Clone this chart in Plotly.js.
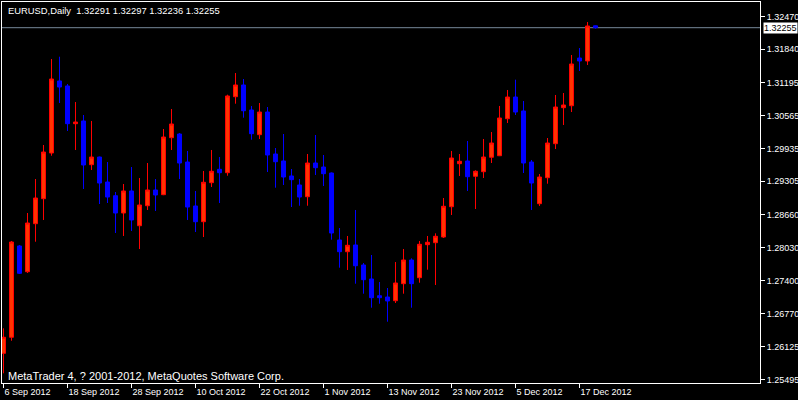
<!DOCTYPE html>
<html>
<head>
<meta charset="utf-8">
<script src="https://cdn.plot.ly/plotly-3.0.1.min.js"></script>
<style>html,body{margin:0;padding:0;background:#000;}#chart{width:798px;height:400px;}</style>
</head>
<body>
<div id="chart"></div>
<script>
const dates = [
"2012-09-06","2012-09-07","2012-09-10","2012-09-11","2012-09-12","2012-09-13","2012-09-14","2012-09-17","2012-09-18","2012-09-19","2012-09-20","2012-09-21","2012-09-24","2012-09-25","2012-09-26","2012-09-27","2012-09-28",
"2012-10-01","2012-10-02","2012-10-03","2012-10-04","2012-10-05","2012-10-08","2012-10-09","2012-10-10","2012-10-11","2012-10-12","2012-10-15","2012-10-16","2012-10-17","2012-10-18","2012-10-19","2012-10-22","2012-10-23","2012-10-24","2012-10-25","2012-10-26","2012-10-29","2012-10-30","2012-10-31",
"2012-11-01","2012-11-02","2012-11-05","2012-11-06","2012-11-07","2012-11-08","2012-11-09","2012-11-12","2012-11-13","2012-11-14","2012-11-15","2012-11-16","2012-11-19","2012-11-20","2012-11-21","2012-11-22","2012-11-23","2012-11-26","2012-11-27","2012-11-28","2012-11-29","2012-11-30",
"2012-12-03","2012-12-04","2012-12-05","2012-12-06","2012-12-07","2012-12-10","2012-12-11","2012-12-12","2012-12-13","2012-12-14","2012-12-17","2012-12-18","2012-12-19"
];
const openP = [
1.26003,1.26311,1.28064,1.27570,1.28492,1.28972,1.29849,1.31232,1.31136,1.30412,1.30464,1.29625,1.29772,1.29292,1.29029,1.28697,1.29120,
1.28453,1.28837,1.29139,1.29049,1.30143,1.30214,1.29676,1.28832,1.28530,1.29279,1.29536,1.29471,1.30930,1.31155,1.30675,1.30201,1.30636,1.29830,1.29696,1.29408,1.29235,1.29010,1.29657,
1.29580,1.29465,1.28179,1.27954,1.28083,1.27699,1.27430,1.27109,1.27084,1.27013,1.27340,1.27795,1.27455,1.28089,1.28127,1.28236,1.28818,1.29644,1.29696,1.29402,1.29490,1.29767,
1.29797,1.30508,1.30924,1.30656,1.29676,1.28876,1.29375,1.30028,1.30719,1.30757,1.31673,1.31616,1.32291
];
const highP = [
1.26483,1.28160,1.28083,1.28697,1.29350,1.30003,1.31654,1.31698,1.31174,1.30828,1.30579,1.30464,1.29780,1.29676,1.29100,1.29254,1.29580,
1.29369,1.29657,1.29350,1.30310,1.30694,1.30233,1.29888,1.29120,1.29504,1.29907,1.29772,1.30969,1.31385,1.31270,1.30752,1.30809,1.30732,1.29945,1.30214,1.29542,1.29350,1.29830,1.30195,
1.29811,1.29475,1.28409,1.28256,1.28755,1.27737,1.27891,1.27372,1.27257,1.27756,1.28006,1.27827,1.28160,1.28256,1.28307,1.28985,1.29888,1.29830,1.30080,1.29517,1.30118,1.30252,
1.30752,1.31059,1.31257,1.30848,1.29715,1.29446,1.30137,1.30963,1.31001,1.31731,1.31865,1.32364,1.32297
];
const lowP = [
1.25619,1.26245,1.27526,1.27545,1.28146,1.28563,1.29797,1.30809,1.30272,1.29907,1.29158,1.29523,1.28870,1.28889,1.28313,1.28256,1.28352,
1.28006,1.28755,1.28736,1.29040,1.29907,1.29350,1.28563,1.28332,1.28236,1.29196,1.28889,1.29413,1.30796,1.30527,1.30105,1.30118,1.29484,1.29183,1.29235,1.28812,1.28837,1.28837,1.29427,
1.29216,1.28185,1.27647,1.27603,1.27340,1.27148,1.26879,1.26956,1.26610,1.26969,1.27148,1.26879,1.27359,1.27609,1.27315,1.28217,1.28659,1.29408,1.29120,1.28774,1.29369,1.29657,
1.29790,1.30425,1.30579,1.29465,1.28755,1.28832,1.29260,1.29926,1.30387,1.30636,1.31424,1.31539,1.32236
];
const closeP = [
1.26311,1.28140,1.27539,1.28505,1.28985,1.29868,1.31270,1.31116,1.30412,1.30444,1.29619,1.29772,1.29273,1.29004,1.28697,1.29120,1.28563,
1.28851,1.29139,1.29043,1.30156,1.30406,1.29657,1.28812,1.28530,1.29287,1.29498,1.29471,1.30944,1.31155,1.30661,1.30220,1.30636,1.29811,1.29682,1.29388,1.29337,1.29004,1.29657,1.29567,
1.29452,1.28313,1.27954,1.28077,1.27685,1.27417,1.27071,1.27071,1.27008,1.27353,1.27795,1.27340,1.28096,1.28135,1.28250,1.28826,1.29753,1.29690,1.29394,1.29498,1.29772,1.30041,
1.30521,1.30924,1.30636,1.29657,1.29273,1.29388,1.30041,1.30732,1.30771,1.31558,1.31616,1.32288,1.32255
];
const xTickDates = ["2012-09-06","2012-09-18","2012-09-28","2012-10-10","2012-10-22","2012-11-01","2012-11-13","2012-11-23","2012-12-05","2012-12-17"];
const xTickLabels = ["6 Sep 2012","18 Sep 2012","28 Sep 2012","10 Oct 2012","22 Oct 2012","1 Nov 2012","13 Nov 2012","23 Nov 2012","5 Dec 2012","17 Dec 2012"];
const yTickVals = [1.32470,1.31840,1.31195,1.30565,1.29935,1.29305,1.28660,1.28030,1.27400,1.26770,1.26125,1.25495];
const symbolTitle = "EURUSD,Daily\u00A0\u00A01.32291 1.32297 1.32236 1.32255";
const lastPrice = 1.32255;
const copyright = "MetaTrader 4, ? 2001-2012, MetaQuotes Software Corp.";

const FONT = "Liberation Sans, Arial, sans-serif";
const trace = {
  type: "candlestick",
  x: dates, open: openP, high: highP, low: lowP, close: closeP,
  increasing: {line: {color: "#FF0000", width: 1}, fillcolor: "#FF3300"},
  decreasing: {line: {color: "#0000FF", width: 1}, fillcolor: "#0000FF"},
  whiskerwidth: 0,
  hoverinfo: "skip",
  showlegend: false
};
const layout = {
  width: 798, height: 400,
  paper_bgcolor: "#000", plot_bgcolor: "#000",
  margin: {l: 2, r: 38, t: 2, b: 17, pad: 0},
  font: {family: FONT, size: 9, color: "#fff"},
  showlegend: false,
  boxgap: 0.5, boxgroupgap: 0, boxmode: "overlay",
  xaxis: {
    type: "category", range: [-0.1875, 94.56],
    rangeslider: {visible: false},
    showgrid: false, zeroline: false,
    showline: true, mirror: true, linecolor: "#fff", linewidth: 1,
    ticks: "outside", ticklen: 4, tickcolor: "#fff", tickwidth: 1,
    tickvals: xTickDates, ticktext: xTickLabels,
    ticklabelposition: "outside right",
    tickfont: {family: FONT, size: 9, color: "#fff"},
    fixedrange: true
  },
  yaxis: {
    side: "right", range: [1.254332, 1.327484],
    tickvals: yTickVals, ticktext: yTickVals.map(v => v.toFixed(5)),
    ticks: "outside", ticklen: 4, tickcolor: "#fff", tickwidth: 1,
    showgrid: false, zeroline: false,
    showline: true, mirror: true, linecolor: "#fff", linewidth: 1,
    tickfont: {family: FONT, size: 9, color: "#fff"},
    fixedrange: true
  },
  shapes: [{
    type: "line", xref: "paper", x0: 0, x1: 1, yref: "y", y0: lastPrice, y1: lastPrice,
    line: {color: "#778899", width: 1}, layer: "below"
  }],
  annotations: [
    {xref: "paper", yref: "paper", x: 4/758, y: (383-10.5)/381, xanchor: "left", yanchor: "middle",
     text: symbolTitle, showarrow: false, font: {family: FONT, size: 9.4, color: "#fff"}},
    {xref: "paper", yref: "paper", x: 3.5/758, y: (383-375.5)/381, xanchor: "left", yanchor: "middle",
     text: copyright, showarrow: false, font: {family: FONT, size: 11, color: "#fff"}},
    {xref: "paper", yref: "y", x: (762.5-2)/758, y: lastPrice, xanchor: "left", yanchor: "middle",
     text: lastPrice.toFixed(5), showarrow: false, bgcolor: "#fff", borderpad: 0,
     font: {family: FONT, size: 9, color: "#000"}}
  ]
};
Plotly.newPlot("chart", [trace], layout, {displayModeBar: false, staticPlot: true});
</script>
</body>
</html>
